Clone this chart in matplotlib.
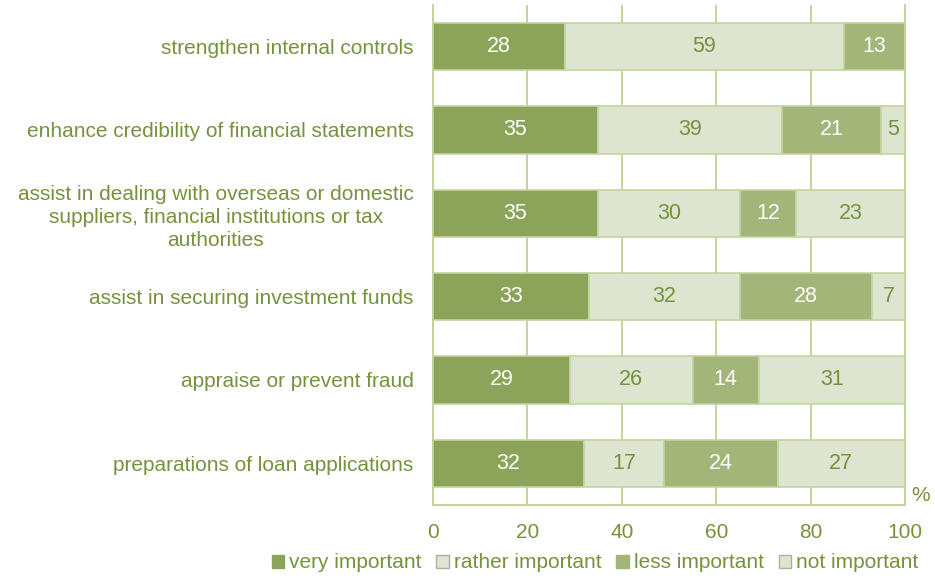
import matplotlib
matplotlib.use("Agg")
import matplotlib.pyplot as plt
from matplotlib.patches import Patch
import numpy as np

plt.rcParams["font.family"] = ["Liberation Sans", "DejaVu Sans"]

categories = [
    "strengthen internal controls",
    "enhance credibility of financial statements",
    "assist in dealing with overseas or domestic\nsuppliers, financial institutions or tax\nauthorities",
    "assist in securing investment funds",
    "appraise or prevent fraud",
    "preparations of loan applications",
]
series_names = ["very important", "rather important", "less important", "not important"]
very_important = [28, 35, 35, 33, 29, 32]
rather_important = [59, 39, 30, 32, 26, 17]
less_important = [13, 21, 12, 28, 14, 24]
not_important = [0, 5, 23, 7, 31, 27]
x_ticks = [0, 20, 40, 60, 80, 100]

TEXT_GREEN = "#76923c"
GRID_GREEN = "#c3d49f"
fills = ["#8ba45a", "#dde4cf", "#a3b578", "#dde4cf"]
label_colors = ["white", TEXT_GREEN, "white", TEXT_GREEN]
legend_edges = ["#8ba45a", "#a9b39a", "#a3b578", "#a9b39a"]

fig = plt.figure(figsize=(9.35, 5.78), dpi=100)
ax = fig.add_axes([433 / 935, 1 - 505 / 578, 472 / 935, 500 / 578])

y = np.arange(len(categories))
left = np.zeros(len(categories))
for vals, fc, tc in zip([very_important, rather_important, less_important, not_important],
                        fills, label_colors):
    vals = np.asarray(vals, dtype=float)
    ax.barh(y, vals, left=left, height=0.57, color=fc, edgecolor=GRID_GREEN,
            linewidth=1.2, zorder=3)
    # value labels centred in each segment (skip empty ones)
    for yi, l, v in zip(y, left, vals):
        if v > 0:
            ax.text(l + v / 2, yi, f"{v:.0f}", ha="center", va="center",
                    color=tc, fontsize=15.5, zorder=4)
    left += vals

ax.set_xlim(0, 100)
ax.set_ylim(len(categories) - 0.5, -0.5)
ax.set_xticks(x_ticks)
ax.set_xticklabels([str(t) for t in x_ticks])
ax.set_yticks(y)
ax.set_yticklabels(categories, multialignment="center", linespacing=1.28)
ax.tick_params(axis="both", length=0, colors=TEXT_GREEN, labelsize=15)
ax.tick_params(axis="x", pad=13)
ax.tick_params(axis="y", pad=14)
ax.xaxis.grid(True, color=GRID_GREEN, linewidth=1.4, zorder=0)
ax.set_axisbelow(True)
for side in ["left", "right", "bottom"]:
    ax.spines[side].set_color(GRID_GREEN)
    ax.spines[side].set_linewidth(1.4)
ax.spines["top"].set_visible(False)

ax.text(1.013, 0.0, "%", transform=ax.transAxes, ha="left", va="bottom",
        color=TEXT_GREEN, fontsize=15)

handles = [Patch(facecolor=fc, edgecolor=ec, linewidth=1.0)
           for fc, ec in zip(fills, legend_edges)]
fig.legend(handles, series_names, loc="center", ncol=4,
           bbox_to_anchor=(595 / 935, 1 - 563 / 578), frameon=False,
           fontsize=15, labelcolor=TEXT_GREEN, handlelength=0.6, handleheight=0.6,
           handletextpad=0.25, columnspacing=0.7, borderpad=0)

fig.savefig("out.png", dpi=100)
